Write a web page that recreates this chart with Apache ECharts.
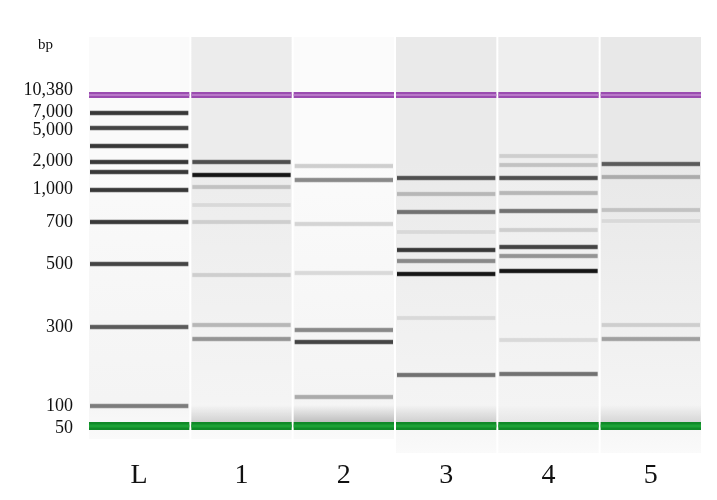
<!DOCTYPE html>
<html><head><meta charset="utf-8">
<script src="https://cdn.jsdelivr.net/npm/echarts@6/dist/echarts.min.js"></script>
<style>html,body{margin:0;padding:0;background:#fff}#c{width:717px;height:500px}</style>
</head><body><div id="c"></div>
<script>
const lanes = ['L','1','2','3','4','5'];
// migration distance (arbitrary units from gel top) and band intensity (0..1)
const ladderPos = [76,91,109,125,135,153,185,227,290,369];
const ladderInt = [0.8,0.75,0.8,0.8,0.8,0.8,0.8,0.75,0.65,0.5];
const lane1Pos = [125,138,150,168,185,238,288,302];
const lane1Int = [0.7,0.95,0.2,0.1,0.15,0.15,0.25,0.4];
const lane2Pos = [129,143,187,236,293,305,360];
const lane2Int = [0.15,0.45,0.12,0.1,0.45,0.75,0.3];
const lane3Pos = [141,157,175,195,213,224,237,281,338];
const lane3Int = [0.7,0.25,0.55,0.1,0.8,0.45,0.95,0.1,0.55];
const lane4Pos = [119,128,141,156,174,193,210,219,234,303,337];
const lane4Int = [0.15,0.2,0.7,0.25,0.55,0.15,0.75,0.4,0.95,0.1,0.55];
const lane5Pos = [127,140,173,184,288,302];
const lane5Int = [0.65,0.3,0.2,0.1,0.15,0.35];
const smearInt = [0,0.3,0.45,0.3,0.12,0.25];
const upperMarker = 58, lowerMarker = 389;
const sizeLabels = ['10,380','7,000','5,000','2,000','1,000','700','500','300','100','50'];
const sizeLabelPos = [53,75,93,124,152,185,227,290,369,391];
const laneBg = ['#fafafa','#ececec','#fbfbfb','#eaeaea','#eeeeee','#e8e8e8'];
const laneBottom = [402,402,402,416,416,416];

const allPos=[ladderPos,lane1Pos,lane2Pos,lane3Pos,lane4Pos,lane5Pos];
const allInt=[ladderInt,lane1Int,lane2Int,lane3Int,lane4Int,lane5Int];
const bands=[];
allPos.forEach((arr,i)=>arr.forEach((p,j)=>bands.push([i,p,allInt[i][j]])));
const gray=v=>{const g=Math.round(240-v*230);return 'rgb('+g+','+g+','+g+')';};

const chart=echarts.init(document.getElementById('c'));
chart.setOption({
  animation:false,
  grid:{left:88,right:15,top:37,bottom:50},
  xAxis:{type:'category',data:lanes,axisLine:{show:false},axisTick:{show:false},
    axisLabel:{fontFamily:'Liberation Serif',fontSize:28,color:'#111',margin:12}},
  yAxis:{type:'value',min:0,max:413,inverse:true,show:false},
  graphic:[{type:'text',left:38,top:38,style:{text:'bp',font:'15px "Liberation Serif"',fill:'#111'}}],
  series:[
   {type:'custom',data:lanes.map((l,i)=>[i,0,laneBottom[i]]),
    renderItem:(p,api)=>{const w=api.size([1,0])[0];const a=api.coord([api.value(0),0]);const b=api.coord([api.value(0),api.value(2)]);
      return {type:'rect',shape:{x:a[0]-w/2+1,y:a[1],width:w-2,height:b[1]-a[1]},
        style:{fill:new echarts.graphic.LinearGradient(0,0,0,1,[{offset:0,color:laneBg[api.value(0)]},{offset:0.3,color:laneBg[api.value(0)]},{offset:0.9,color:'#f4f4f4'},{offset:1,color:'#fafafa'}])}};}},
   {type:'custom',data:smearInt.map((v,i)=>[i,380,v]),
    renderItem:(p,api)=>{const w=api.size([1,0])[0];const a=api.coord([api.value(0),api.value(1)]);const v=api.value(2);
      return {type:'rect',shape:{x:a[0]-w/2+1,y:a[1]-12,width:w-2,height:20},
        style:{fill:new echarts.graphic.LinearGradient(0,0,0,1,[{offset:0,color:'rgba(0,0,0,0)'},{offset:1,color:'rgba(0,0,0,'+(v*0.6)+')'}])}};}},
   {type:'custom',data:bands,
    renderItem:(p,api)=>{const w=api.size([1,0])[0];const a=api.coord([api.value(0),api.value(1)]);const c=gray(api.value(2));
      return {type:'rect',shape:{x:a[0]-w/2+2,y:a[1]-3.5,width:w-4,height:7},
        style:{fill:new echarts.graphic.LinearGradient(0,0,0,1,[{offset:0,color:'rgba(255,255,255,0)'},{offset:0.3,color:c},{offset:0.7,color:c},{offset:1,color:'rgba(255,255,255,0)'}])}};}},
   {type:'custom',data:lanes.map((l,i)=>[i,upperMarker,lowerMarker]),
    renderItem:(p,api)=>{const w=api.size([1,0])[0];const a=api.coord([api.value(0),api.value(1)]);const b=api.coord([api.value(0),api.value(2)]);
      return {type:'group',children:[
        {type:'rect',shape:{x:a[0]-w/2+1,y:a[1]-3,width:w-2,height:6},style:{fill:'#9a4cb0'}},
        {type:'rect',shape:{x:a[0]-w/2+1,y:a[1]-1,width:w-2,height:2},style:{fill:'#b878c8'}},
        {type:'rect',shape:{x:b[0]-w/2+1,y:b[1]-4,width:w-2,height:8},style:{fill:'#108a28'}},
        {type:'rect',shape:{x:b[0]-w/2+1,y:b[1]-1.5,width:w-2,height:3},style:{fill:'#1ca236'}}]};}},
   {type:'custom',data:sizeLabels.map((t,i)=>[0,sizeLabelPos[i],t]),
    renderItem:(p,api)=>{const w=api.size([1,0])[0];const a=api.coord([0,api.value(1)]);
      return {type:'text',x:a[0]-w/2-15,y:a[1],style:{text:sizeLabels[p.dataIndex],align:'right',verticalAlign:'middle',font:'18px "Liberation Serif"',fill:'#111'}};}}
  ]
});
</script></body></html>
